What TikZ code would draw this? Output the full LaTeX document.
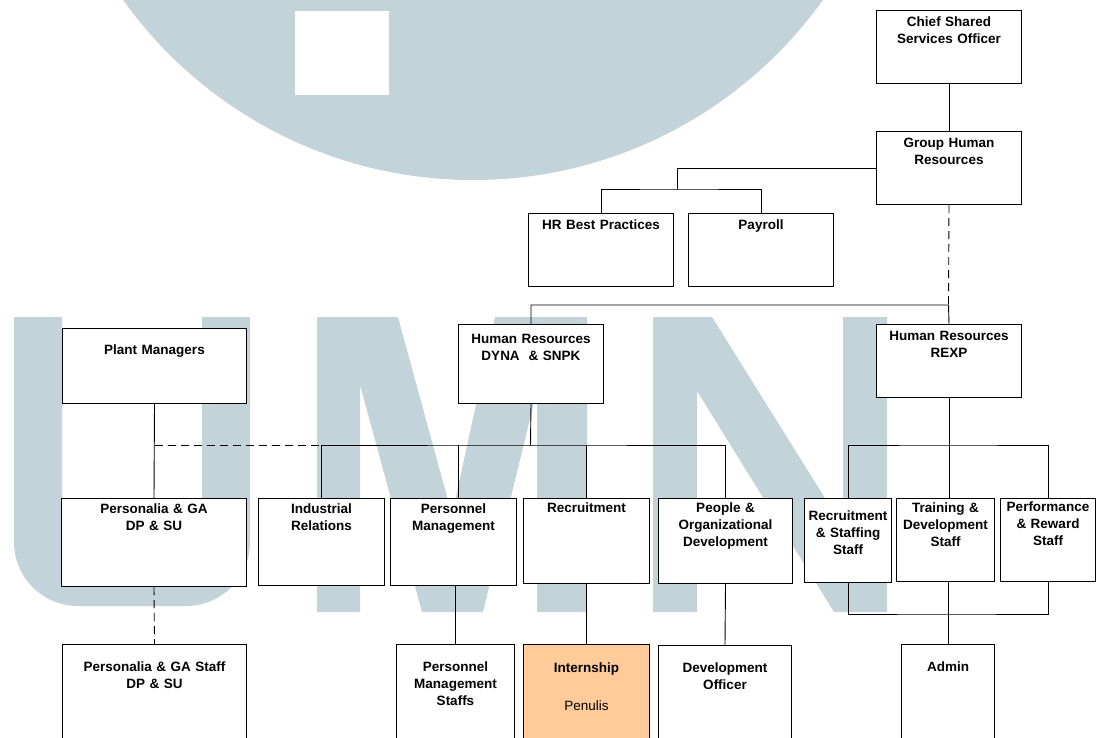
\documentclass[tikz,border=0pt]{standalone}
\usepackage{fontspec}
\setmainfont{Liberation Sans}
\usepackage{tikz}
\definecolor{wmblue}{HTML}{C3D3DA}
\definecolor{internorange}{HTML}{FFCC99}

\begin{document}
\begin{tikzpicture}[
    x=1pt, y=-1pt,
    orgbox/.style={rectangle, draw=black, fill=white, line width=1pt, anchor=north west, align=center, inner sep=0pt, font=\bfseries\fontsize{13.5}{17}\selectfont},
    dims/.style n args={3}{text width=#1, minimum width=#1, text height=#3, text depth={#2-#3}},
    edgeline/.style={draw=black, line width=0.9pt},
    dotline/.style={edgeline, dash pattern=on 8pt off 5pt},
    wm/.style={fill=wmblue, draw=none}
]
\useasboundingbox (0,0) rectangle (1096,737);
\clip (0,0) rectangle (1096,737);

% Watermark
\fill[wm] (473,-250) circle[radius=430pt];
\fill[white] (295,11) rectangle (389,95);
\draw[wmblue, line width=48pt, rounded corners=40pt] (38,317) -- (38,582) -- (226,582) -- (226,317);
\fill[wm] (317,317) -- (398,317) -- (452,515) -- (495,317) -- (587,317) -- (587,612) -- (537,612)
    -- (537,390) -- (483,612) -- (422,612) -- (360,385) -- (360,612) -- (317,612) -- cycle;
\fill[wm] (653,317) -- (712,317) -- (843,527) -- (843,317) -- (887,317) -- (887,612) -- (834,612)
    -- (697,391) -- (697,612) -- (653,612) -- cycle;

% Top
\node[orgbox, dims={145pt}{73pt}{16pt}] (cso) at (876,10) {Chief Shared\\Services Officer};
\node[orgbox, dims={145pt}{73pt}{16pt}] (ghr) at (876,131) {Group Human\\Resources};
\node[orgbox, dims={145pt}{73pt}{16pt}] (hrbp) at (528,213) {HR Best Practices};
\node[orgbox, dims={145pt}{73pt}{16pt}] (payroll) at (688,213) {Payroll};

% Row 2
\node[orgbox, dims={184pt}{75pt}{26pt}] (plant) at (62,328) {Plant Managers};
\node[orgbox, dims={145pt}{79pt}{19pt}] (hrdyna) at (458,324) {Human Resources\\DYNA~ \& SNPK};
\node[orgbox, dims={145pt}{73pt}{16pt}] (hrrexp) at (876,324) {Human Resources\\REXP};

% Row 3
\node[orgbox, dims={185pt}{88pt}{15pt}] (persga) at (61,498) {Personalia \& GA\\DP \& SU};
\node[orgbox, dims={126pt}{87pt}{15pt}] (indrel) at (258,498) {Industrial\\Relations};
\node[orgbox, dims={126pt}{87pt}{15pt}] (permgmt) at (390,498) {Personnel\\Management};
\node[orgbox, dims={126pt}{85pt}{14pt}] (recruit) at (523,498) {Recruitment};
\node[orgbox, dims={134pt}{85pt}{14pt}] (pod) at (658,498) {People \&\\Organizational\\Development};
\node[orgbox, dims={87pt}{84pt}{22pt}] (rss) at (804,498) {Recruitment\\\& Staffing\\Staff};
\node[orgbox, dims={98pt}{83pt}{14pt}] (tds) at (896,498) {Training \&\\Development\\Staff};
\node[orgbox, dims={95pt}{83pt}{13pt}] (prs) at (1000,498) {Performance\\\& Reward\\Staff};

% Row 4
\node[orgbox, dims={184pt}{120pt}{27pt}] (persgastaff) at (62,644) {Personalia \& GA Staff\\DP \& SU};
\node[orgbox, dims={118pt}{120pt}{27pt}] (pmstaff) at (396,644) {Personnel\\Management\\Staffs};
\node[orgbox, fill=internorange, dims={126pt}{120pt}{28pt}] (intern) at (523,644) {Internship\\[21pt]{\mdseries Penulis}};
\node[orgbox, dims={133pt}{120pt}{27pt}] (devoff) at (658,645) {Development\\Officer};
\node[orgbox, dims={93pt}{120pt}{27pt}] (admin) at (901,644) {Admin};

% Junctions
\coordinate (jhr) at (677,189);
\coordinate (jgrp) at (948.5,305);
\coordinate (jdyna) at (530.5,445);
\coordinate (jrexp) at (948.5,445);
\coordinate (jstaff) at (945,614);

% Connectors
\draw[edgeline] (cso) -- (ghr);
\draw[edgeline] (ghr.west) -| (jhr);
\draw[edgeline] (hrbp.north) |- (jhr) -| (payroll.north);
\draw[dotline] (ghr.south) -- (jgrp);
\draw[edgeline] (hrdyna.north) |- (jgrp) -- (hrrexp.north);

\draw[edgeline] (plant.south) -- (persga.north);
\draw[dotline] (plant.south |- jdyna) -- (indrel.north |- jdyna);
\draw[edgeline] (hrdyna.south) -- (jdyna);
\draw[edgeline] (indrel.north) |- (jdyna) -| (pod.north);
\draw[edgeline] ([xshift=5pt]permgmt.north) -- ([xshift=5pt]permgmt.north |- jdyna);
\draw[edgeline] (recruit.north) -- (recruit.north |- jdyna);

\draw[edgeline] (hrrexp.south) -- (hrrexp.south |- tds.north);
\draw[edgeline] (rss.north) |- (jrexp) -| (prs.north);

\draw[dotline] (persga.south) -- (persgastaff.north);
\draw[edgeline] (pmstaff.north |- permgmt.south) -- (pmstaff.north);
\draw[edgeline] (recruit.south) -- (intern.north);
\draw[edgeline] (pod.south) -- (devoff.north);
\draw[edgeline] (rss.south) |- (jstaff) -| (prs.south);
\draw[edgeline] (admin.north |- tds.south) -- (admin.north);

\end{tikzpicture}
\end{document}
